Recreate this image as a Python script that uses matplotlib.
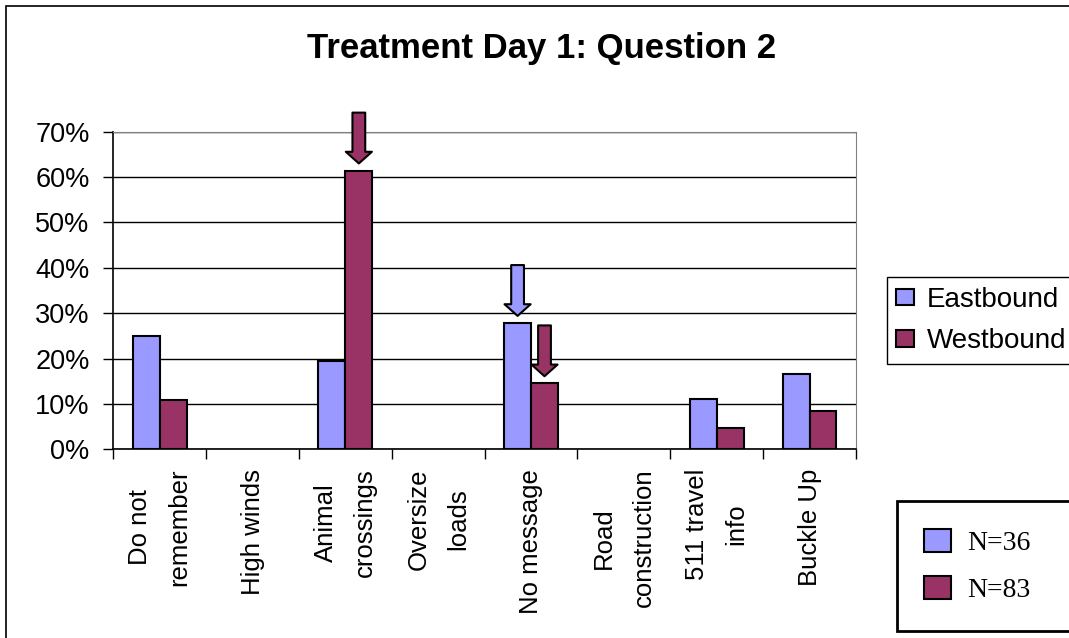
import numpy as np
import matplotlib.pyplot as plt
from matplotlib.patches import Rectangle

# Survey answers, share of respondents (%)
categories = ['Do not\nremember', 'High winds', 'Animal\ncrossings', 'Oversize\nloads',
              'No message', 'Road\nconstruction', '511 travel\ninfo', 'Buckle Up']
eastbound = [25.0, 0, 19.4, 0, 27.8, 0, 11.1, 16.7]
westbound = [10.8, 0, 61.4, 0, 14.5, 0, 4.8, 8.4]
series_names = ['Eastbound', 'Westbound']
sample_sizes = ['N=36', 'N=83']

# arrows point at (category index, series index)
highlights = [(2, 1), (4, 0), (4, 1)]

east_color = '#9999FF'
west_color = '#993366'

plt.rcParams['font.family'] = ['Liberation Sans', 'DejaVu Sans']

fig = plt.figure(figsize=(10.69, 6.38), dpi=100)
ax = fig.add_axes([0.106, 0.2958, 0.6947, 0.4978])

x = np.arange(len(categories))
w = 0.29
b1 = ax.bar(x - w / 2, eastbound, w, color=east_color, edgecolor='black', linewidth=1.5, zorder=3)
b2 = ax.bar(x + w / 2, westbound, w, color=west_color, edgecolor='black', linewidth=1.5, zorder=3)
# empty answers leave no outline on the axis
for bars, vals in [(b1, eastbound), (b2, westbound)]:
    for rect, v in zip(bars, vals):
        if v == 0:
            rect.set_linewidth(0)

ax.set_xlim(-0.5, len(categories) - 0.5)
ax.set_ylim(0, 70)
ax.set_yticks(np.arange(0, 71, 10))
ax.set_yticklabels([f'{v}%' for v in range(0, 71, 10)], fontsize=19.5)
ax.yaxis.grid(True, color='black', linewidth=1.0, zorder=0)
ax.tick_params(axis='y', length=7, width=1, pad=10)

ax.set_xticks(x)
ax.set_xticklabels(categories, rotation=90, va='top', ha='center',
                   multialignment='center', fontsize=18.5, linespacing=1.8)
ax.tick_params(axis='x', which='major', length=0, pad=14)
ax.set_xticks(np.arange(-0.5, len(categories)), minor=True)
ax.tick_params(axis='x', which='minor', length=7, width=1)

ax.spines['left'].set_linewidth(1.2)
ax.spines['bottom'].set_linewidth(1.2)
ax.spines['top'].set_color('#808080')
ax.spines['right'].set_color('#808080')

# down arrows above the highlighted bars
vals = [eastbound, westbound]
cols = [east_color, west_color]
for ci, si in highlights:
    bx = ci + (si - 0.5) * w
    tip = vals[si][ci] + 1.6
    ax.annotate('', xy=(bx, tip), xytext=(bx, tip + 11.2),
                arrowprops=dict(arrowstyle='simple,head_length=0.42,head_width=0.94,tail_width=0.46',
                                mutation_scale=20, fc=cols[si], ec='black', lw=1.5,
                                shrinkA=0, shrinkB=0),
                annotation_clip=False, zorder=5)

fig.text(0.507, 1 - 58 / 638, 'Treatment Day 1: Question 2', ha='center', va='baseline',
         fontsize=25, fontweight='bold')

# both legend boxes run past the right edge of the picture
leg1 = fig.legend([b1, b2], series_names, loc='upper left', mode='expand',
                  bbox_to_anchor=(886.7 / 1069, 1 - 277 / 638, 0.2, 0), fontsize=20,
                  handlelength=0.65, handleheight=0.55, handletextpad=0.45,
                  labelspacing=0.55, borderpad=0.35, borderaxespad=0,
                  fancybox=False, framealpha=1, edgecolor='black')
leg1.get_frame().set_linewidth(1.0)

leg2 = fig.legend([b1, b2], sample_sizes, loc='upper left', mode='expand',
                  bbox_to_anchor=(896.7 / 1069, 1 - 501 / 638, 0.2, 0),
                  prop={'family': 'Liberation Serif', 'size': 20},
                  handlelength=0.95, handleheight=0.92, handletextpad=0.6,
                  labelspacing=0.7, borderpad=1.0, borderaxespad=0,
                  fancybox=False, framealpha=1, edgecolor='black')
leg2.get_frame().set_linewidth(2.0)

# chart area border (runs off the right and bottom edges)
fig.patches.append(Rectangle((6 / 1069, -0.05), 1.1, 1 - 6 / 638 + 0.05,
                             transform=fig.transFigure, fill=False,
                             edgecolor='black', linewidth=1.2))

fig.savefig('out.png', dpi=100)
